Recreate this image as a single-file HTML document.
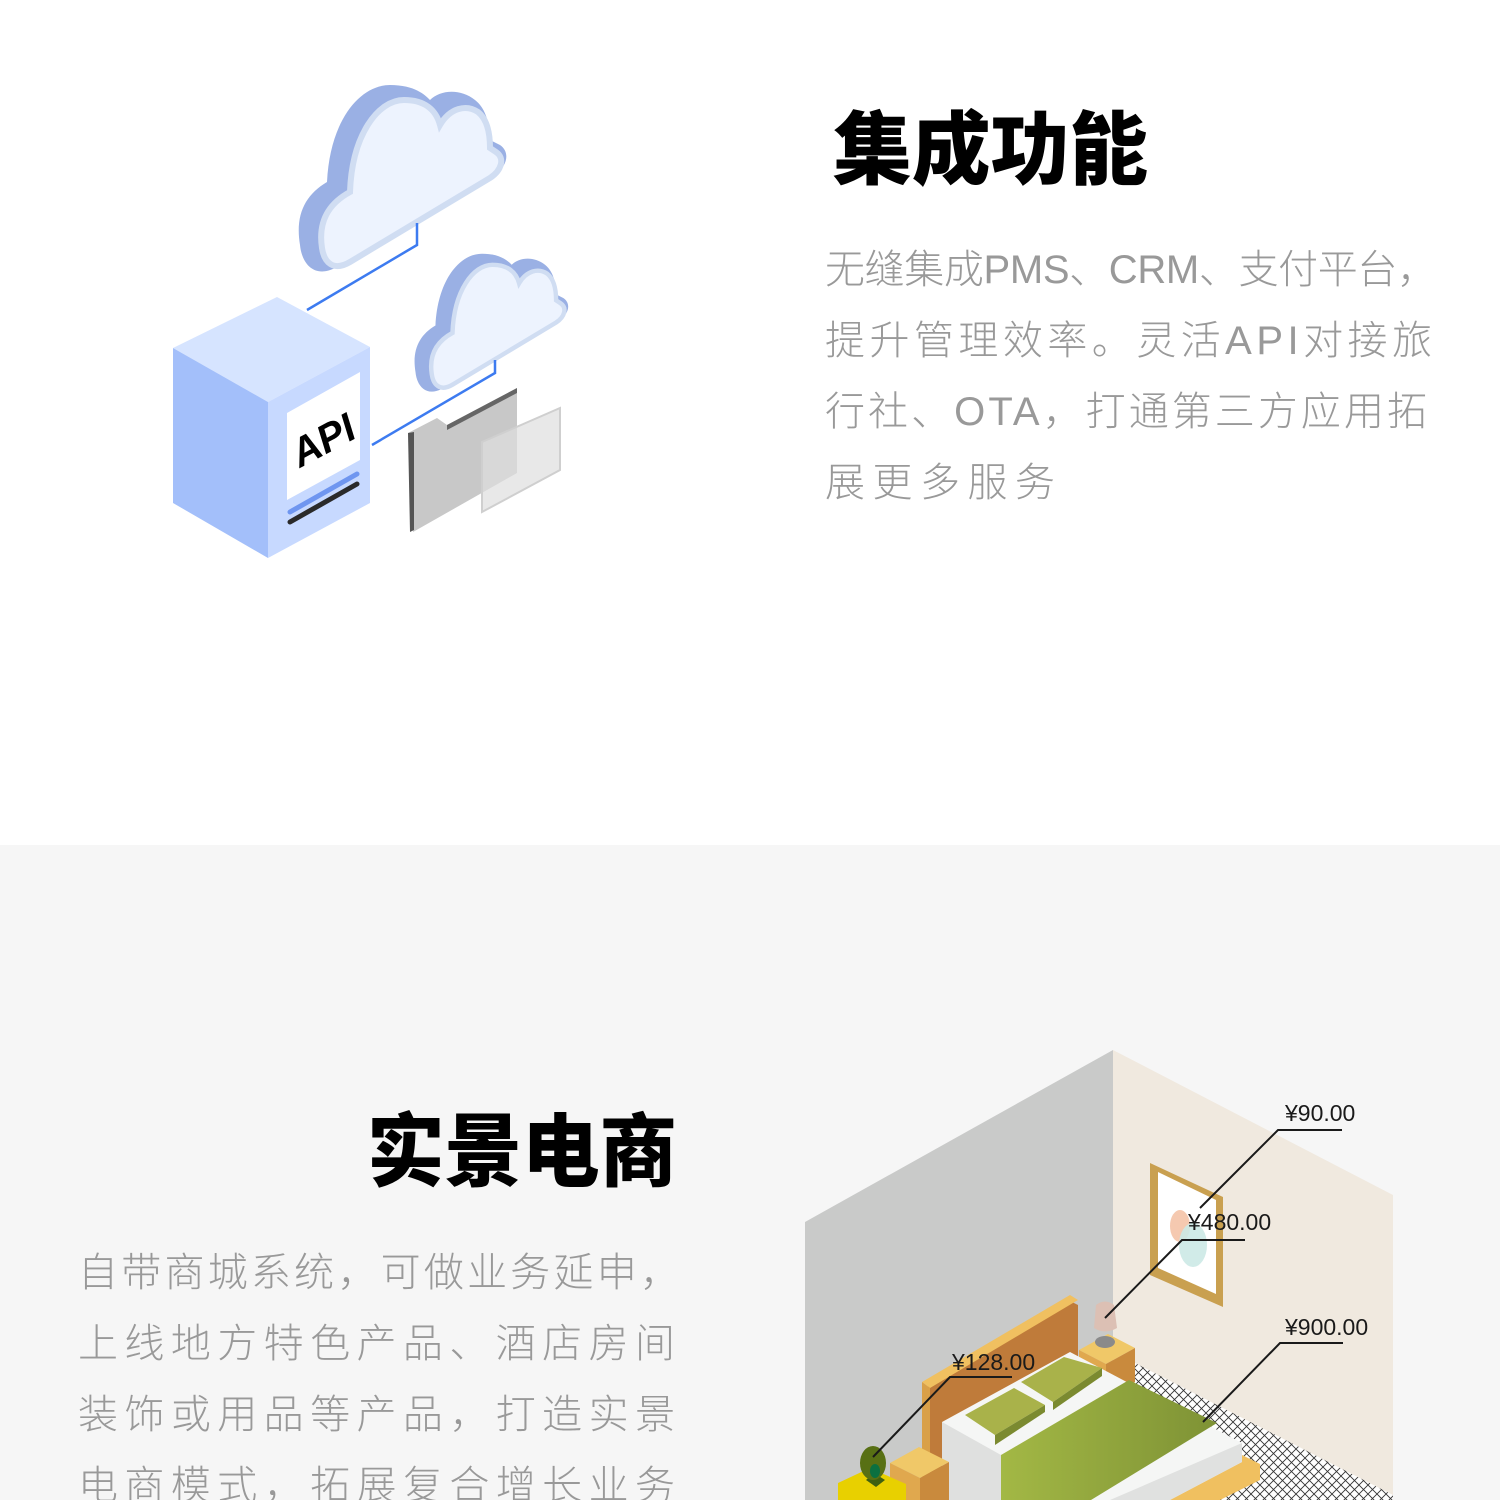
<!DOCTYPE html>
<html><head><meta charset="utf-8"><style>
html,body{margin:0;padding:0;background:#fff;}
svg{display:block;}
.t{font-family:"Liberation Sans","Noto Sans CJK SC",sans-serif;}
</style></head><body>
<svg width="1500" height="1500" viewBox="0 0 1500 1500" xmlns="http://www.w3.org/2000/svg">
<defs>
<pattern id="mesh" width="9" height="9" patternUnits="userSpaceOnUse">
<rect width="9" height="9" fill="#fff"/>
<path d="M0 0L9 9M9 0L0 9" stroke="#333" stroke-width="0.9"/>
</pattern>
<linearGradient id="gb" x1="0" x2="1" y1="0" y2="0"><stop offset="0" stop-color="#a3b845"/><stop offset="1" stop-color="#7e9235"/></linearGradient>
<g id="cloud">
<path d="M300 245 C295 215 305 195 327 182 C330 120 360 85 390 85 C415 85 425 95 430 100 C440 90 460 88 475 100 C488 110 490 130 490 140 L500 145 C510 152 508 165 495 175 L335 268 C315 278 302 265 300 245 Z" fill="#9ab0e4"/>
<path d="M322 248 C318 222 328 204 350 192 C352 135 378 100 404 100 C425 100 436 110 440 125 C450 108 466 104 478 112 C488 120 490 135 490 148 L496 152 C505 158 502 170 490 178 L350 262 C333 272 324 262 322 248 Z" fill="#edf3fe" stroke="#d0ddf2" stroke-width="6"/>
</g>
</defs>
<rect x="0" y="0" width="1500" height="845" fill="#fff"/>
<rect x="0" y="845" width="1500" height="655" fill="#f6f6f6"/>

<use href="#cloud"/>
<g transform="translate(193.5,190.8) scale(0.74)"><use href="#cloud"/></g>
<path d="M417 223 V245 L307 310" fill="none" stroke="#3d7bf0" stroke-width="2.5"/>
<path d="M495 360 V373 L372 445" fill="none" stroke="#3d7bf0" stroke-width="2.5"/>
<polygon points="173,348 277,297 370,347 268,402" fill="#d6e4ff"/>
<polygon points="173,348 268,402 268,558 173,503" fill="#a3bffa"/>
<polygon points="268,402 370,347 370,503 268,558" fill="#c7d9ff"/>
<polygon points="287,413 360,372 360,460 287,500" fill="#fff"/>
<text class="t" x="0" y="0" font-size="40" font-weight="bold" font-style="italic" fill="#000" transform="translate(300,468) rotate(-28)">API</text>
<line x1="290" y1="512" x2="357" y2="474" stroke="#6f96f0" stroke-width="5" stroke-linecap="round"/>
<line x1="290" y1="522" x2="357" y2="484" stroke="#2a2a2a" stroke-width="5" stroke-linecap="round"/>
<polygon points="408,433 437,418 447,425 517,388 517,473 413,532" fill="#c8c8c8"/>
<polygon points="408,433 414,432 414,530 410,532" fill="#555"/>
<polygon points="447,425 517,388 517,393 447,430" fill="#666"/>
<polygon points="482,442 560,408 560,470 482,512" fill="#dedede" fill-opacity="0.7" stroke="#cfcfcf" stroke-width="2"/>

<text class="t" x="833" y="178" font-size="80" font-weight="900" fill="#000" textLength="315" lengthAdjust="spacingAndGlyphs">集成功能</text>
<g class="t" font-size="40" font-weight="300" fill="#999">
<text x="825" y="283" textLength="612" lengthAdjust="spacing">无缝集成PMS、CRM、支付平台，</text>
<text x="825" y="354" textLength="607" lengthAdjust="spacing">提升管理效率。灵活API对接旅</text>
<text x="825" y="425" textLength="602" lengthAdjust="spacing">行社、OTA，打通第三方应用拓</text>
<text x="825" y="496" textLength="230" lengthAdjust="spacing">展更多服务</text>
</g>

<text class="t" x="367" y="1180" font-size="80" font-weight="900" fill="#000" textLength="310" lengthAdjust="spacingAndGlyphs">实景电商</text>
<g class="t" font-size="40" font-weight="300" fill="#999">
<text x="78" y="1286" textLength="602" lengthAdjust="spacing">自带商城系统，可做业务延申，</text>
<text x="78" y="1357" textLength="597" lengthAdjust="spacing">上线地方特色产品、酒店房间</text>
<text x="78" y="1428" textLength="597" lengthAdjust="spacing">装饰或用品等产品，打造实景</text>
<text x="78" y="1499" textLength="597" lengthAdjust="spacing">电商模式，拓展复合增长业务</text>
</g>

<polygon points="805,1222 1113,1050 1113,1500 805,1500" fill="#c9cac9"/>
<polygon points="1113,1050 1393,1195 1393,1500 1113,1500" fill="#f0e9df"/>
<polygon points="1133,1362 1393,1495 1393,1500 930,1500 1000,1460" fill="url(#mesh)"/>
<polygon points="1150,1163 1223,1197 1223,1307 1150,1275" fill="#c9a050"/>
<polygon points="1158,1172 1216,1200 1216,1294 1158,1268" fill="#fff"/>
<ellipse cx="1180" cy="1226" rx="10" ry="16" fill="#f5c9b0"/>
<ellipse cx="1193" cy="1245" rx="14" ry="22" fill="#cce9e5" fill-opacity="0.9"/>
<polygon points="922,1390 1070,1301 1078,1305 1078,1500 922,1500" fill="#bf7b3a"/>
<polygon points="922,1382 1070,1295 1078,1300 930,1388" fill="#f0c060"/>
<polygon points="922,1382 930,1388 930,1500 922,1500" fill="#d9a048"/>
<polygon points="1079,1350 1108,1334 1135,1348 1106,1364" fill="#f0c868"/>
<polygon points="1106,1364 1135,1348 1135,1382 1106,1398" fill="#c98a3d"/>
<polygon points="1079,1350 1106,1364 1106,1398 1079,1382" fill="#e0a84e"/>
<ellipse cx="1105" cy="1342" rx="10" ry="6" fill="#8a8a8a"/>
<path d="M1096 1305 Q1105 1298 1114 1305 L1117 1328 Q1105 1335 1094 1328 Z" fill="#dcc0b4"/>
<polygon points="935,1478 960,1464 960,1500 950,1500" fill="#f0c060"/>
<polygon points="1150,1500 1242,1455 1260,1464 1260,1480 1220,1500" fill="#f0c060"/>
<polygon points="942,1422 1070,1352 1242,1443 1242,1462 1170,1500 942,1500" fill="#f5f6f5"/>
<polygon points="1110,1500 1242,1443 1242,1462 1170,1500" fill="#e0e1e0"/>
<polygon points="942,1422 1001,1455 1001,1500 942,1500" fill="#dfe0df"/>
<polygon points="965,1415 1014,1388 1045,1405 995,1435" fill="#a9b24a"/>
<polygon points="995,1435 1045,1405 1045,1412 995,1445" fill="#7b8a30"/>
<polygon points="1021,1382 1064,1357 1102,1368 1053,1402" fill="#a9b24a"/>
<polygon points="1053,1402 1102,1368 1102,1376 1053,1410" fill="#7b8a30"/>
<polygon points="1001,1455 1129,1380 1217,1423 1091,1500 1001,1500" fill="url(#gb)"/>
<polygon points="890,1463 919,1447 949,1462 920,1478" fill="#f0c868"/>
<polygon points="920,1478 949,1462 949,1500 920,1500" fill="#c98a3d"/>
<polygon points="890,1463 920,1478 920,1500 890,1500" fill="#e0a84e"/>
<polygon points="838,1483 870,1468 906,1484 906,1500 838,1500" fill="#e8d000"/>
<polygon points="866,1480 874,1473 885,1480 876,1487" fill="#3f6010"/>
<ellipse cx="873" cy="1463" rx="13" ry="17" fill="#587014"/>
<ellipse cx="875" cy="1471" rx="5" ry="7" fill="#0c7040"/>
<g fill="none" stroke="#1a1a1a" stroke-width="2">
<path d="M1342 1130 H1278 L1200 1208"/>
<path d="M1245 1240 H1182 L1105 1318"/>
<path d="M1343 1343 H1280 L1203 1422"/>
<path d="M1012 1377 H950 L873 1457"/>
</g>
<g class="t" font-size="23" fill="#1a1a1a">
<text x="1285" y="1121">¥90.00</text>
<text x="1188" y="1230">¥480.00</text>
<text x="1285" y="1335">¥900.00</text>
<text x="952" y="1370">¥128.00</text>
</g>
</svg>
</body></html>
